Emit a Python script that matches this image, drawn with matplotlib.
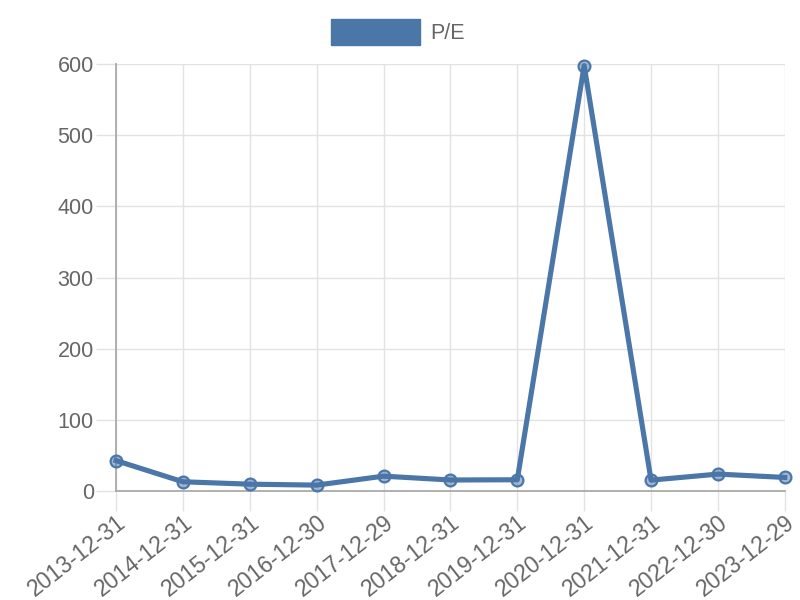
import matplotlib
matplotlib.use("Agg")
import matplotlib.pyplot as plt
from matplotlib.patches import Patch

plt.rcParams['font.family'] = ['Liberation Sans', 'DejaVu Sans']

dates = ['2013-12-31', '2014-12-31', '2015-12-31', '2016-12-30', '2017-12-29',
         '2018-12-31', '2019-12-31', '2020-12-31', '2021-12-31', '2022-12-30',
         '2023-12-29']
pe = [42.5, 12.7, 9.3, 8.0, 20.6, 15.2, 15.5, 598, 15.0, 23.5, 18.8]
y_ticks = [0, 100, 200, 300, 400, 500, 600]

line_color = '#4a76a8'
text_color = '#666666'
grid_color = '#e2e2e2'

fig = plt.figure(figsize=(8, 6), dpi=100)
ax = fig.add_axes([0.145, 0.182, 0.836, 0.711])

x = list(range(len(dates)))
ax.plot(x, pe, color=line_color, linewidth=3.7, marker='o', markersize=8.5,
        markerfacecolor=(0.29, 0.46, 0.66, 0.5), markeredgecolor=line_color,
        markeredgewidth=1.6, zorder=3, clip_on=False)

ax.set_xlim(0, len(dates) - 1)
ax.set_ylim(0, 600)
ax.set_yticks(y_ticks)
ax.set_xticks(x)
ax.set_xticklabels(dates, rotation=38, ha='right', va='top',
                   rotation_mode='anchor')

ax.grid(True, color=grid_color, linewidth=1)
ax.set_axisbelow(True)
for side in ['top', 'right']:
    ax.spines[side].set_visible(False)
for side in ['left', 'bottom']:
    ax.spines[side].set_color('#aaaaaa')
    ax.spines[side].set_linewidth(1.3)

ax.tick_params(axis='both', colors=grid_color, labelcolor=text_color,
               length=14.5, width=1)
ax.tick_params(axis='x', labelsize=16.5, pad=0)
ax.tick_params(axis='y', labelsize=15.5, pad=1.5)

handle = Patch(facecolor=line_color, edgecolor=line_color)
fig.legend([handle], ['P/E'], loc='center', bbox_to_anchor=(0.497, 0.947),
           frameon=False, fontsize=15.5, labelcolor=text_color,
           handlelength=4.15, handleheight=1.45, handletextpad=0.48,
           borderpad=0, borderaxespad=0)

fig.savefig('out.png', dpi=100)
